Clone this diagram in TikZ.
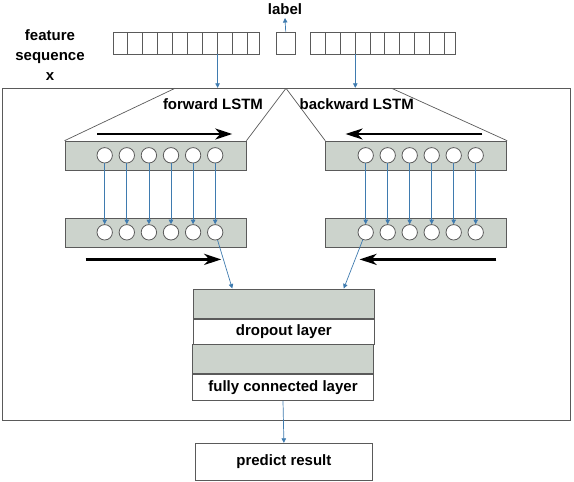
\documentclass[tikz,border=0pt]{standalone}
\usepackage{fontspec}
\setmainfont{Liberation Sans}
\usetikzlibrary{arrows.meta,positioning,calc}
\definecolor{cellgray}{HTML}{CCD3CC}
\definecolor{linkblue}{HTML}{3F7BAF}
\definecolor{edge}{HTML}{5A5A5A}

\begin{document}
\begin{tikzpicture}[x=1pt, y=-1pt, font=\fontsize{15}{20}\selectfont\bfseries]
  \tikzset{
    seqbox/.style ={draw=edge, line width=0.8pt, minimum height=22, inner sep=0pt},
    lstmbox/.style={draw=edge, fill=cellgray, line width=0.9pt, minimum width=181, minimum height=29.5, inner sep=0pt},
    unit/.style   ={circle, draw=edge, fill=white, line width=0.8pt, minimum size=15.4, inner sep=0pt},
    graybox/.style={draw=edge, fill=cellgray, line width=0.9pt, minimum width=181, minimum height=29.3, inner sep=0pt},
    whitebox/.style={draw=edge, fill=white, line width=0.9pt, minimum width=181, minimum height=25.5, inner sep=0pt},
    link/.style   ={-{Triangle[length=4.5pt,width=4.5pt]}, linkblue, line width=0.7pt},
    dirarrow/.style={-{Stealth[length=17pt,width=11pt,inset=5pt]}, black, line width=2.6pt},
    thin/.style   ={draw=edge, line width=0.7pt},
  }
  \useasboundingbox (0,0) rectangle (574,482);

  % input sequence and label
  \node[align=center] (feat) at (50,55) {feature\\sequence\\x};
  \node[seqbox, minimum width=146] (seqL) at (186,43) {};
  \node[seqbox, minimum width=145] (seqR) at (383.2,43) {};
  \foreach \i in {1,...,9} {
    \draw[thin] ([xshift=15*\i]seqL.south west) -- ([xshift=15*\i]seqL.north west);
    \draw[thin] ([xshift=14.9*\i]seqR.south west) -- ([xshift=14.9*\i]seqR.north west);
  }
  \node[seqbox, minimum width=18.7] (lab) at (285.7,43) {};
  \node (labtxt) at (285,9) {label};
  \draw[link] (lab.north) -- (labtxt.south);

  % outer frame
  \node[draw=edge, line width=0.9pt, minimum width=567.5, minimum height=332.4, inner sep=0pt] (frame) at (286.5,254.5) {};
  \coordinate (inL) at ([xshift=105]seqL.south west);
  \coordinate (inR) at ([xshift=45]seqR.south west);
  \draw[link] (inL) -- (inL |- frame.north);
  \draw[link] (inR) -- (inR |- frame.north);

  % forward / backward LSTM
  \node[lstmbox] (fwT) at (155.5,155.9) {};
  \node[lstmbox] (fwB) at (155.5,233) {};
  \node[lstmbox] (bwT) at (416.2,155.9) {};
  \node[lstmbox] (bwB) at (416.2,233) {};
  \coordinate (apex) at (286,88.3);
  \coordinate (fwEdge) at (175,88.3);
  \coordinate (bwEdge) at (391.7,88.3);
  \draw[thin] (fwEdge) -- (fwT.north west);
  \draw[thin] (apex) -- (fwT.north east);
  \draw[thin] (apex) -- (bwT.north west);
  \draw[thin] (bwEdge) -- (bwT.north east);
  \node (fwtxt) at (213,104) {forward LSTM};
  \node (bwtxt) at (356.7,104) {backward LSTM};

  \foreach \i in {0,...,5} {
    \node[unit] (ft\i) at ({104.7+22.1*\i},155.3) {};
    \node[unit] (fb\i) at ({104.7+22.1*\i},232.3) {};
    \node[unit] (bt\i) at ({365.7+22*\i},155.3) {};
    \node[unit] (bb\i) at ({365.7+22*\i},232.3) {};
    \draw[link] (ft\i) -- (fb\i);
    \draw[link] (bt\i) -- (bb\i);
  }

  \draw[dirarrow] ([xshift=32.7,yshift=6.7]fwT.north west) -- ([xshift=167.7,yshift=6.7]fwT.north west);
  \draw[dirarrow] ([xshift=21,yshift=-11.2]fwB.south west) -- ([xshift=156.7,yshift=-11.2]fwB.south west);
  \draw[dirarrow] ([xshift=157,yshift=6.7]bwT.north west) -- ([xshift=20.3,yshift=6.7]bwT.north west);
  \draw[dirarrow] ([xshift=171,yshift=-11.2]bwB.south west) -- ([xshift=34.3,yshift=-11.2]bwB.south west);

  % dropout, fully connected, output
  \node[graybox] (dg) at (283.8,303.6) {};
  \node[whitebox, below=0pt of dg] (dw) {dropout layer};
  \node[graybox, minimum width=180.6] (fg) at (283,358.8) {};
  \node[whitebox, minimum width=180.6, minimum height=26, below=0pt of fg] (fc) {fully connected layer};
  \node[draw=edge, line width=0.9pt, minimum width=177.7, minimum height=37.4, inner sep=0pt] (pred) at (283.9,462) {predict result};

  \draw[link] (fb5) -- ([xshift=39.4]dg.north west);
  \draw[link] (bb0) -- ([xshift=-31]dg.north east);
  \draw[link] (fc.south) -- (pred.north);
\end{tikzpicture}
\end{document}
